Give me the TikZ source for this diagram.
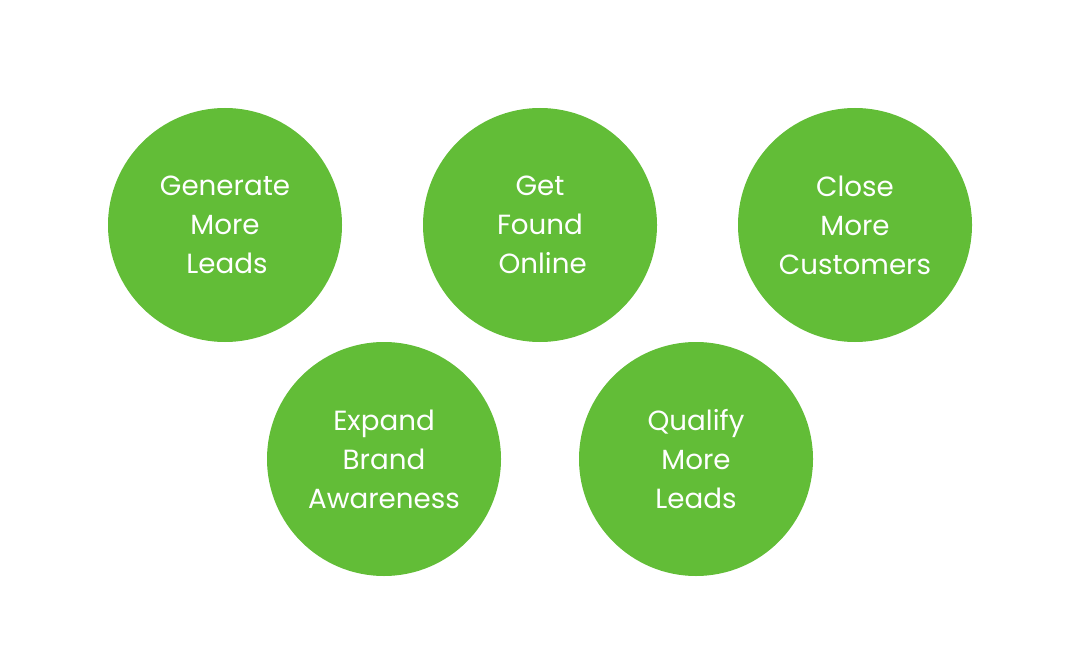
\documentclass[tikz,border=0pt]{standalone}
\usepackage{fontspec}
\setmainfont{Poppins}
\usepackage{xcolor}
\definecolor{goalgreen}{HTML}{62BD37}
\usetikzlibrary{positioning}

\begin{document}
\begin{tikzpicture}[
        x=0.75pt, y=-0.75pt,
        goal/.style={circle, fill=goalgreen, draw=none, minimum size=175.5pt, inner sep=0pt, text=white, align=center, font=\fontsize{20.8}{29.25}\selectfont}
    ]
    \useasboundingbox (0,0) rectangle (1080,670);

    \node[goal] (leads) at (225,225) {Generate\hspace{6pt}\\More\hspace{2pt}\\\hspace{3pt}Leads};
    \node[goal] (found) at (540,225) {Get\hspace{4pt}\\Found\hspace{6pt}\\\hspace{4pt}Online};
    \node[goal] (close) at (855,225) {Close\\More\\Customers};
    \node[goal] (brand) at (384,459) {Expand\\Brand\\Awareness};
    \node[goal] (qualify) at (696,459) {Qualify\\More\\Leads};

\end{tikzpicture}
\end{document}
